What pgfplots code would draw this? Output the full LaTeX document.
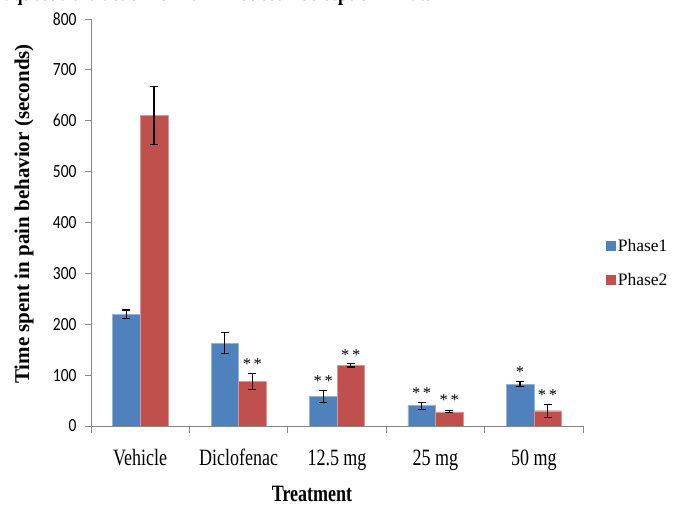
\documentclass[border=0pt]{standalone}
\usepackage{pgfplots}
\pgfplotsset{compat=1.18}
\usepackage{fontspec}
\setmainfont{Liberation Serif}
\newfontfamily\tickfont{Carlito}
\definecolor{cblue}{HTML}{4F81BD}
\definecolor{cred}{HTML}{C0504D}
\definecolor{axgray}{HTML}{868686}
\begin{document}
\begin{tikzpicture}
\begin{axis}[
  at={(91pt,80pt)}, anchor=south west,
  scale only axis, width=492pt, height=407pt,
  xmin=-0.5, xmax=4.5, ymin=0, ymax=800,
  axis x line*=bottom, axis y line*=left,
  axis line style={axgray, line width=0.8pt, -},
  ybar,
  tick align=outside,
  /pgf/number format/assume math mode=true,
  xtick={0,...,4},
  xticklabels={Vehicle,Diclofenac,12.5 mg,25 mg,50 mg},
  major x tick style={draw=none},
  minor xtick={-0.5,0.5,1.5,2.5,3.5,4.5},
  minor tick length=7pt,
  major tick length=6pt,
  minor x tick style={axgray, line width=0.8pt},
  ytick={0,100,...,800},
  y tick style={axgray, line width=0.8pt},
  yticklabel style={font=\tickfont\fontsize{15.5}{16}\selectfont, yscale=1.2, xshift=-5pt},
  xticklabel style={font=\fontsize{18}{20}\selectfont, yscale=1.3, anchor=base, yshift=-26pt},
  legend style={at={(1.04,0.40)}, anchor=west, draw=none, fill=none,
    font=\fontsize{17.5}{20}\selectfont, row sep=16pt, legend cell align=left},
  legend image code/.code={\fill[#1, draw=none] (0pt,-5pt) rectangle (10pt,5pt);},
  error bars/error bar style={black, line width=1.1pt},
  error bars/error mark options={black, rotate=90, mark size=4pt, line width=1.1pt},
]
\addplot[fill=cblue, draw=cblue!60!white, bar width=0.28, bar shift=-0.14,
  error bars/.cd, y dir=both, y explicit]
  coordinates {(0,220) +- (0,8) (1,163) +- (0,20) (2,58) +- (0,11) (3,40) +- (0,7) (4,82) +- (0,5)};
\addlegendentry{Phase1}
\addplot[fill=cred, draw=cred!60!white, bar width=0.28, bar shift=0.14,
  error bars/.cd, y dir=both, y explicit]
  coordinates {(0,610) +- (0,57) (1,88) +- (0,16) (2,119) +- (0,3) (3,28) +- (0,2) (4,30) +- (0,13)};
\addlegendentry{Phase2}
\begin{scope}[every node/.style={font=\fontsize{16.5}{16}\selectfont}]
\node at (axis cs:1.14,122) {*\,*};
\node at (axis cs:1.86,88) {*\,*};
\node at (axis cs:2.14,140) {*\,*};
\node at (axis cs:2.86,65) {*\,*};
\node at (axis cs:3.14,50) {*\,*};
\node at (axis cs:3.86,106) {*};
\node at (axis cs:4.14,61) {*\,*};
\end{scope}
\end{axis}
\node[rotate=90, font=\bfseries\fontsize{21}{22}\selectfont] at (24pt,292pt) {Time spent in pain behavior (seconds)};
\node[font=\bfseries\fontsize{18}{20}\selectfont, yscale=1.3] at (312pt,12pt) {Treatment};
\node[anchor=base west, font=\bfseries\fontsize{18}{20}\selectfont, yscale=1.3] at (0pt,505pt) {aqueous extract on formalin induced nociception in rats};
\pgfresetboundingbox
\useasboundingbox (0pt,0pt) rectangle (675pt,506pt);
\end{tikzpicture}
\end{document}
